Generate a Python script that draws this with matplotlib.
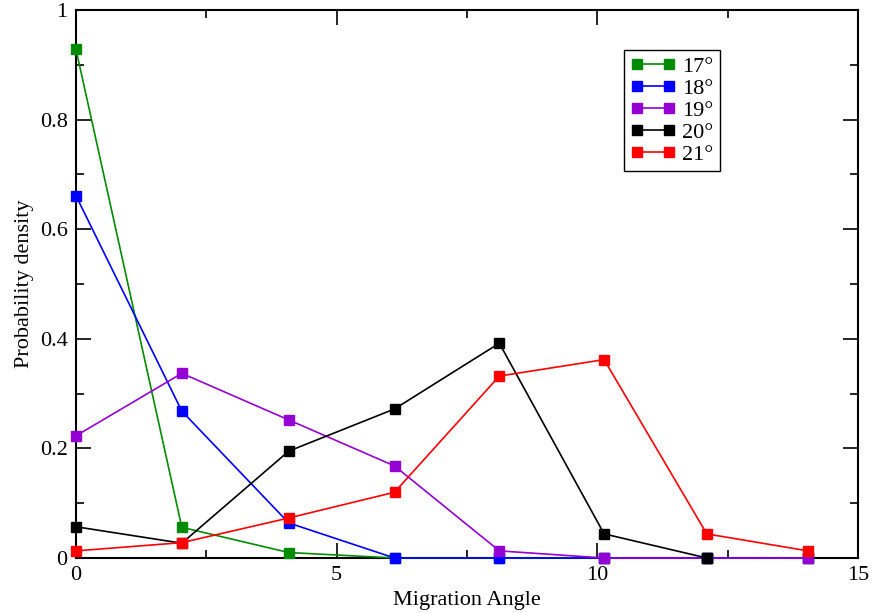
import matplotlib.pyplot as plt
from matplotlib.ticker import MultipleLocator, FuncFormatter

# Значения
angles = [0, 2.03, 4.08, 6.11, 8.12, 10.13, 12.1, 14.04]
p17 = [0.928, 0.056, 0.010, 0, 0, 0, 0, 0]
p18 = [0.661, 0.268, 0.064, 0, 0, 0, 0, 0]
p19 = [0.223, 0.337, 0.252, 0.168, 0.013, 0, 0, 0]
p20 = [0.057, 0.027, 0.195, 0.272, 0.392, 0.044, 0]
p21 = [0.013, 0.028, 0.073, 0.120, 0.332, 0.362, 0.044, 0.013]

series = [
    ('17°', p17, '#008b00'),
    ('18°', p18, '#0000ff'),
    ('19°', p19, '#9400d3'),
    ('20°', p20, '#000000'),
    ('21°', p21, '#ff0000'),
]

plt.rcParams['font.family'] = ['Liberation Serif', 'DejaVu Serif']

fig = plt.figure(figsize=(8.74, 6.13), dpi=100)
ax = fig.add_axes([76 / 874, 55 / 613, 782 / 874, 548 / 613])

for name, vals, col in series:
    ax.plot(angles[:len(vals)], vals, color=col, lw=1.2, marker='s',
            markersize=7, label=name, clip_on=False, zorder=3)

ax.set_xlim(0, 15)
ax.set_ylim(0, 1)
ax.xaxis.set_major_locator(MultipleLocator(5))
ax.xaxis.set_minor_locator(MultipleLocator(2.5))
ax.yaxis.set_major_locator(MultipleLocator(0.2))
ax.yaxis.set_minor_locator(MultipleLocator(0.1))
ax.yaxis.set_major_formatter(FuncFormatter(lambda v, p: f'{v:g}'))

ax.tick_params(which='both', direction='in', top=True, right=True,
               width=1.2, labelsize=16)
ax.tick_params(which='major', length=11, pad=6)
ax.tick_params(which='minor', length=5.5)
for s in ax.spines.values():
    s.set_linewidth(1.5)

ax.set_xlabel('Migration Angle', fontsize=16, labelpad=4)
ax.set_ylabel('Probability density', fontsize=16, labelpad=4)

leg = ax.legend(loc='upper left', bbox_to_anchor=(0.7005, 0.927), numpoints=2,
                fontsize=16, frameon=True, fancybox=False, framealpha=1,
                handlelength=2.05, handletextpad=0.28, labelspacing=0.06,
                borderpad=0.3, borderaxespad=0, markerscale=1.1)
leg.get_frame().set_edgecolor('black')
leg.get_frame().set_linewidth(1.0)

fig.savefig('out.png', dpi=100)
